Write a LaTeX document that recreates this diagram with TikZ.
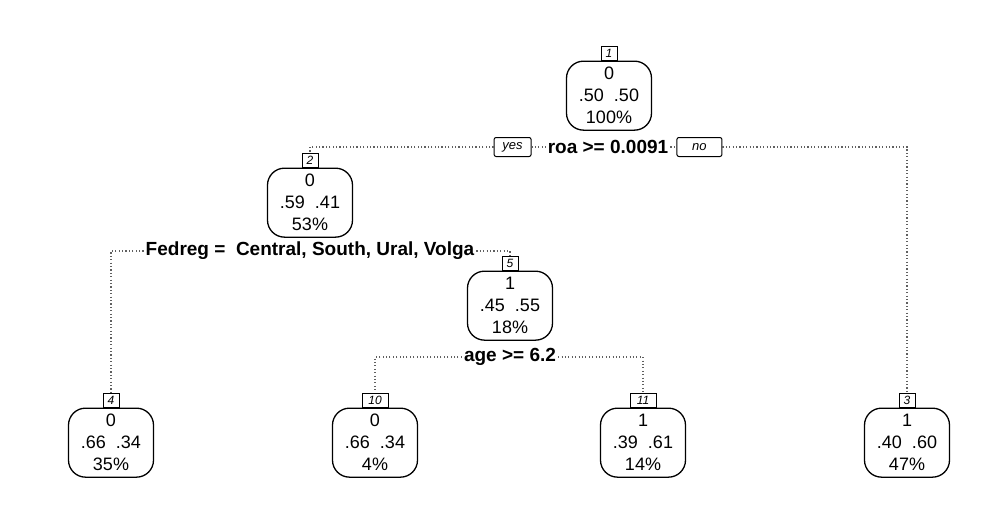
\documentclass[tikz,border=0pt]{standalone}
\usepackage{fontspec}
\setmainfont{Liberation Sans}
\usetikzlibrary{positioning}

\begin{document}
\begin{tikzpicture}[x=1pt, y=-1pt,
    node distance=0pt,
    treebox/.style={draw, line width=1.3pt, rounded corners=17pt, minimum width=85pt, minimum height=69pt, align=center, inner sep=2pt, font=\fontsize{18}{22}\selectfont},
    tagbox/.style={draw, line width=1pt, inner sep=0pt, minimum height=14pt, minimum width=16pt, font=\fontsize{12}{12}\selectfont\itshape},
    splitlab/.style={font=\fontsize{19}{19}\selectfont\bfseries, inner sep=2pt},
    yesno/.style={draw, line width=1pt, rounded corners=2pt, minimum height=19pt, inner sep=1pt, font=\fontsize{13}{13}\selectfont\itshape},
    branch/.style={line width=1.2pt, gray!75!black, dash pattern=on 1.1pt off 2.3pt}
  ]
  \useasboundingbox (0,0) rectangle (1004,514);

  % root
  \node[tagbox] (t1) at (609,53) {1};
  \node[treebox, below=of t1] (n1) {0\\.50\ \ .50\\100\%};
  \node[splitlab] (s1) at (608,147) {roa >= 0.0091};
  \node[yesno, minimum width=37pt, left=14pt of s1] (yes) {yes};
  \node[yesno, minimum width=45pt, right=6pt of s1] (no) {no};

  % left branch
  \node[tagbox] (t2) at (310,160) {2};
  \node[treebox, below=of t2] (n2) {0\\.59\ \ .41\\53\%};
  \node[splitlab] (s2) at (310,251) {Fedreg =\ \ Central, South, Ural, Volga};

  \node[tagbox] (t5) at (510,263) {5};
  \node[treebox, below=of t5] (n5) {1\\.45\ \ .55\\18\%};
  \node[splitlab] (s5) at (510,357) {age >= 6.2};

  % leaves
  \node[tagbox] (t4) at (111,400) {4};
  \node[treebox, below=of t4] (n4) {0\\.66\ \ .34\\35\%};
  \node[tagbox, minimum width=26pt] (t10) at (375,400) {10};
  \node[treebox, below=of t10] (n10) {0\\.66\ \ .34\\4\%};
  \node[tagbox, minimum width=26pt] (t11) at (643,400) {11};
  \node[treebox, below=of t11] (n11) {1\\.39\ \ .61\\14\%};
  \node[tagbox] (t3) at (907,400) {3};
  \node[treebox, below=of t3] (n3) {1\\.40\ \ .60\\47\%};

  % branches
  \draw[branch] (yes.west) -| (t2.north);
  \draw[branch] (yes.east) -- (s1.west);
  \draw[branch] (s1.east) -- (no.west);
  \draw[branch] (no.east) -| (t3.north);
  \draw[branch] (s2.west) -| (t4.north);
  \draw[branch] (s2.east) -| (t5.north);
  \draw[branch] (s5.west) -| (t10.north);
  \draw[branch] (s5.east) -| (t11.north);
\end{tikzpicture}
\end{document}
